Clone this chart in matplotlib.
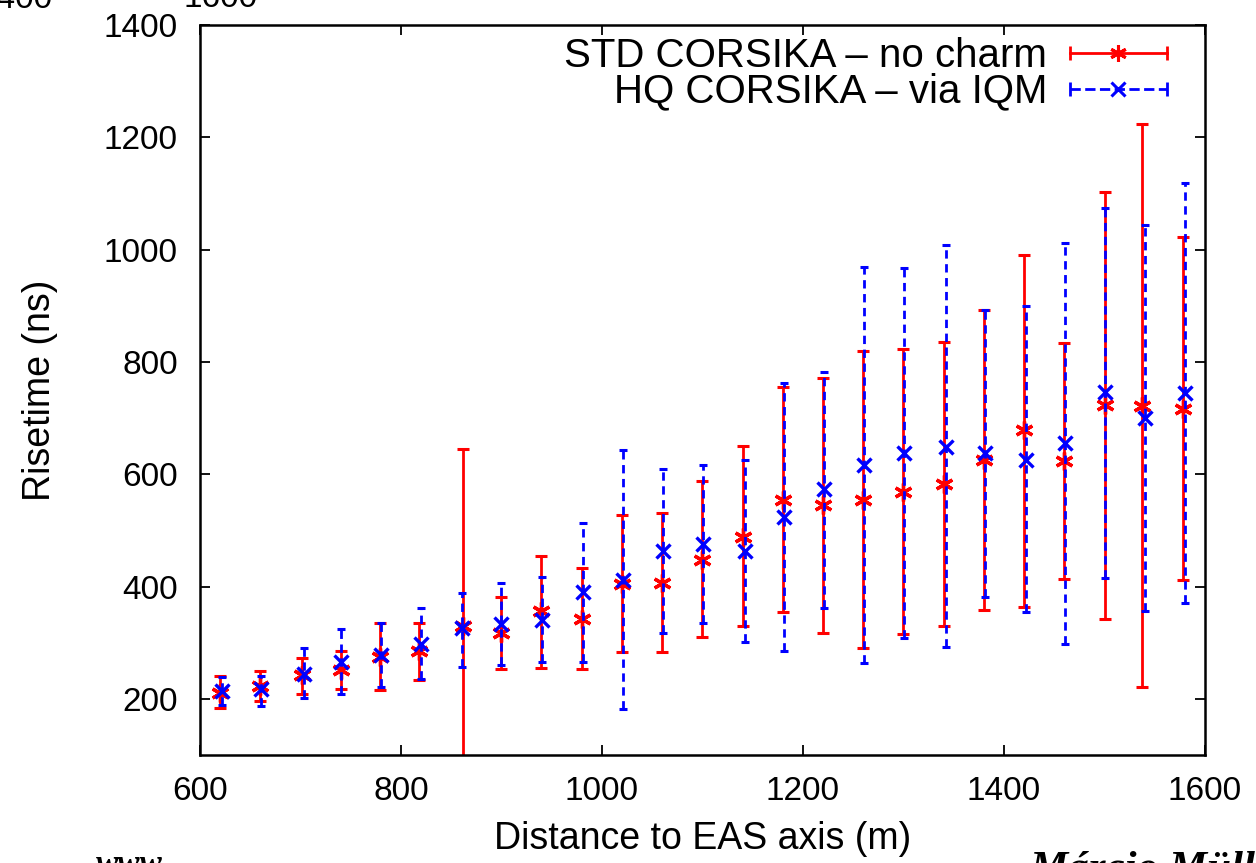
import matplotlib
matplotlib.use('Agg')
import matplotlib.pyplot as plt
import numpy as np
from matplotlib.legend_handler import HandlerBase
from matplotlib.lines import Line2D

plt.rcParams['font.family'] = ['Liberation Sans', 'DejaVu Sans']

# ---------------- data ----------------
distance_std = [620, 660, 702, 740, 779, 818, 862, 900, 939, 980, 1020, 1060, 1100,
                1140, 1180, 1220, 1260, 1300, 1340, 1380, 1420, 1460, 1500, 1537, 1578]
risetime_std = [211, 223, 243, 251, 275, 286, 330, 317, 356, 343, 405, 407, 448,
                489, 555, 545, 555, 568, 583, 625, 679, 624, 723, 721, 717]
low_std = [184, 196, 208, 217, 215, 233, 15, 253, 255, 253, 283, 283, 311,
           329, 355, 318, 290, 316, 330, 359, 364, 414, 343, 221, 412]
high_std = [241, 249, 272, 286, 336, 336, 645, 382, 454, 433, 527, 531, 588,
            651, 756, 772, 820, 823, 835, 893, 991, 834, 1102, 1223, 1023]

distance_hq = [622, 661, 704, 740, 780, 820, 861, 900, 940, 981, 1021, 1061, 1101,
               1142, 1181, 1221, 1261, 1301, 1342, 1381, 1422, 1461, 1500, 1540, 1580]
risetime_hq = [214, 217, 245, 266, 279, 298, 326, 333, 341, 390, 411, 463, 476,
               463, 524, 573, 617, 637, 649, 637, 626, 655, 746, 701, 744]
low_hq = [189, 187, 202, 208, 221, 235, 257, 260, 265, 265, 182, 317, 336,
          302, 286, 362, 264, 308, 292, 381, 354, 297, 416, 357, 370]
high_hq = [239, 241, 290, 324, 336, 361, 388, 406, 417, 514, 643, 610, 616,
           626, 763, 782, 969, 967, 1008, 893, 899, 1012, 1075, 1043, 1118]

label_std = 'STD CORSIKA – no charm'
label_hq = 'HQ CORSIKA – via IQM'
xticks = [600, 800, 1000, 1200, 1400, 1600]
yticks = [200, 400, 600, 800, 1000, 1200, 1400]

# ---------------- figure ----------------
fig = plt.figure(figsize=(12.56, 8.63), dpi=100)
ax = fig.add_axes([0.1592, 0.1251, 0.8002, 0.8459])

def yerr(c, lo, hi):
    c, lo, hi = map(np.asarray, (c, lo, hi))
    return np.vstack([c - lo, hi - c])

ax.errorbar(distance_std, risetime_std, yerr=yerr(risetime_std, low_std, high_std),
            fmt='none', ecolor='#ff0000', elinewidth=2.0, capsize=4.2, capthick=2.2,
            zorder=2)
ax.plot(distance_std, risetime_std, ls='none', marker=(6, 2, 0), ms=13, mew=2.4,
        color='#ff0000', zorder=3)

eb = ax.errorbar(distance_hq, risetime_hq, yerr=yerr(risetime_hq, low_hq, high_hq),
                 fmt='none', ecolor='#0000ff', elinewidth=2.0, capsize=3.0, capthick=2.2,
                 zorder=4)
eb[2][0].set_linestyle((0, (3, 2)))
ax.plot(distance_hq, risetime_hq, ls='none', marker='x', ms=10.5, mew=2.4,
        color='#0000ff', zorder=5)

ax.set_xlim(600, 1600)
ax.set_ylim(100, 1400)
ax.set_xticks(xticks)
ax.set_yticks(yticks)
ax.tick_params(direction='in', length=7, width=1.3, top=True, right=True,
               labelsize=24, pad=15)
ax.tick_params(axis='y', pad=16)
for s in ax.spines.values():
    s.set_linewidth(1.8)

ax.set_xlabel('Distance to EAS axis (m)', fontsize=27, labelpad=10)
ax.set_ylabel('Risetime (ns)', fontsize=27, labelpad=33)


class HandlerHBar(HandlerBase):
    def create_artists(self, legend, orig_handle, xdescent, ydescent, width,
                       height, fontsize, trans):
        y = height / 2 - ydescent
        x0, x1 = -xdescent, width - xdescent
        col = orig_handle.get_color()
        line = Line2D([x0, x1], [y, y], color=col, lw=2.0,
                      ls=orig_handle.get_linestyle())
        caps = Line2D([x0, x1], [y, y], ls='none', marker='|', ms=10, mew=2.0,
                      color=col)
        mk = Line2D([(x0 + x1) / 2], [y], ls='none', marker=orig_handle.get_marker(),
                    ms=orig_handle.get_markersize(), mew=2.2, color=col)
        for a in (line, caps, mk):
            a.set_transform(trans)
        return [line, caps, mk]


h_std = Line2D([], [], color='#ff0000', ls='-', marker=(6, 2, 0), ms=12)
h_hq = Line2D([], [], color='#0000ff', ls=(0, (3, 2)), marker='x', ms=10)
leg = ax.legend([h_std, h_hq], [label_std, label_hq],
                handler_map={Line2D: HandlerHBar()},
                loc='upper right', bbox_to_anchor=(0.962, 0.984),
                frameon=False, markerfirst=False, fontsize=29,
                handlelength=2.4, handletextpad=0.57, labelspacing=-0.05,
                borderpad=0, borderaxespad=0)

# fragments of surrounding slide visible at the image edges
fig.text(53 / 1256, 1 - 8 / 863, '1400', ha='right', va='baseline', fontsize=24)
fig.text(258 / 1256, 1 - 7 / 863, '1600', ha='right', va='baseline', fontsize=24)
fig.text(96 / 1256, 1 - 873 / 863, 'www', ha='left', va='baseline', fontsize=24,
         family='Liberation Serif', weight='bold', style='italic')
fig.text(1030 / 1256, 1 - 880 / 863, 'Márcio Müller', ha='left', va='baseline',
         fontsize=31, family='Liberation Serif', weight='bold', style='italic')

fig.savefig('out.png', dpi=100)
